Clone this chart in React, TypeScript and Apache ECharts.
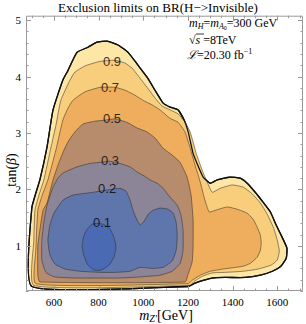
import React, { useEffect, useRef } from "react";
import * as echarts from "echarts";

// ---- axis ranges and ticks ----
const X_MIN = 475;
const X_MAX = 1715;
const Y_MIN = 0.2;
const Y_MAX = 5.08;
const X_MAJOR = [600, 800, 1000, 1200, 1400, 1600];
const X_MINOR = [500, 550, 650, 700, 750, 850, 900, 950, 1050, 1100, 1150, 1250, 1300, 1350, 1450, 1500, 1550, 1650, 1700];
const Y_MAJOR = [1, 2, 3, 4, 5];
const Y_MINOR = [0.2, 0.4, 0.6, 0.8, 1.2, 1.4, 1.6, 1.8, 2.2, 2.4, 2.6, 2.8, 3.2, 3.4, 3.6, 3.8, 4.2, 4.4, 4.6, 4.8];

// ---- contour polygons [mZ' (GeV), tan(beta)] ----
const BOUNDARY = [[501,0.28],[501,1.67],[537,2.17],[569,2.75],[596,3.41],[640,3.94],[663,4.11],[703,4.43],[752,4.52],[793,4.61],[838,4.63],[887,4.56],[932,4.43],[977,4.20],[1017,3.99],[1057,3.73],[1089,3.53],[1120,3.46],[1156,3.41],[1183,3.23],[1201,3.02],[1223,2.64],[1246,2.41],[1268,2.22],[1300,2.11],[1331,2.17],[1389,2.22],[1434,2.20],[1465,2.11],[1501,1.95],[1537,1.77],[1569,1.60],[1595,1.37],[1622,1.15],[1643,0.96],[1640,0.78],[1616,0.64],[1578,0.55],[1524,0.48],[1456,0.44],[1367,0.44],[1309,0.43],[1268,0.39],[1232,0.34],[1201,0.28]];
const C09 = [[510,0.30],[510,1.10],[515,1.63],[533,1.90],[555,2.17],[587,2.75],[609,3.14],[631,3.58],[672,3.94],[694,4.08],[739,4.19],[806,4.27],[874,4.29],[918,4.24],[950,4.15],[986,3.97],[1017,3.81],[1053,3.62],[1084,3.48],[1120,3.41],[1156,3.34],[1187,3.19],[1210,3.02],[1237,2.64],[1264,2.34],[1286,2.13],[1309,1.95],[1344,2.02],[1398,2.08],[1448,2.04],[1488,1.92],[1524,1.76],[1555,1.56],[1582,1.33],[1600,1.10],[1609,0.91],[1600,0.75],[1573,0.66],[1515,0.59],[1448,0.55],[1367,0.53],[1309,0.52],[1264,0.46],[1228,0.37],[1210,0.30]];
const C07 = [[519,0.33],[519,0.92],[528,1.63],[546,1.88],[573,2.17],[609,2.70],[640,3.23],[663,3.44],[685,3.58],[739,3.73],[806,3.81],[874,3.81],[918,3.76],[963,3.67],[999,3.58],[1039,3.50],[1075,3.41],[1120,3.26],[1156,3.19],[1187,3.02],[1210,2.73],[1232,2.43],[1255,2.13],[1273,1.85],[1295,1.60],[1322,1.63],[1376,1.69],[1420,1.65],[1465,1.58],[1492,1.47],[1510,1.33],[1524,1.19],[1528,1.05],[1524,0.92],[1510,0.80],[1479,0.69],[1448,0.64],[1358,0.59],[1300,0.55],[1255,0.48],[1219,0.39],[1201,0.33]];
const C05 = [[537,0.36],[528,0.48],[528,1.01],[537,1.28],[551,1.63],[569,1.76],[596,2.17],[618,2.43],[645,2.70],[667,2.87],[694,3.02],[730,3.16],[784,3.21],[829,3.23],[874,3.25],[927,3.19],[972,3.09],[1017,3.02],[1053,2.91],[1089,2.73],[1129,2.61],[1165,2.48],[1196,2.22],[1214,1.90],[1223,1.46],[1223,1.01],[1219,0.72],[1201,0.50],[1187,0.36]];
const C03 = [[569,1.72],[596,2.04],[618,2.20],[640,2.29],[703,2.40],[761,2.46],[806,2.48],[851,2.50],[896,2.46],[941,2.40],[972,2.31],[1004,2.24],[1030,2.17],[1062,2.11],[1089,2.02],[1120,1.86],[1152,1.72],[1169,1.54],[1178,1.28],[1178,0.92],[1165,0.69],[1129,0.55],[1075,0.48],[986,0.45],[896,0.43],[806,0.43],[694,0.43],[604,0.45],[564,0.53],[546,0.75],[546,1.10],[555,1.42]];
const C02 = [[573,1.10],[582,1.37],[600,1.58],[618,1.69],[640,1.81],[685,1.90],[775,1.95],[838,1.99],[896,2.02],[923,1.97],[941,1.81],[954,1.63],[972,1.46],[986,1.37],[1004,1.44],[1022,1.56],[1044,1.63],[1075,1.67],[1111,1.65],[1134,1.58],[1147,1.42],[1152,1.19],[1147,0.92],[1129,0.73],[1089,0.62],[1039,0.60],[986,0.62],[941,0.55],[874,0.53],[806,0.53],[717,0.55],[649,0.59],[604,0.68],[582,0.84]];
const C01 = [[793,1.40],[824,1.38],[851,1.30],[869,1.15],[878,0.98],[869,0.80],[847,0.66],[811,0.57],[780,0.57],[752,0.66],[735,0.82],[726,0.99],[735,1.19],[752,1.31],[770,1.38]];

const CONTOURS = [BOUNDARY, C09, C07, C05, C03, C02, C01];
const FILLS = ["#fde6a6", "#f8cd7b", "#eeae5e", "#b68c6c", "#8b8597", "#5f76ad", "#4a6bb4"];

// ---- contour labels ----
const LABEL_TEXT = ["0.9", "0.7", "0.5", "0.3", "0.2", "0.1"];
const LABEL_POS = [[860, 4.27], [851, 3.81], [860, 3.25], [851, 2.52], [838, 2.02], [815, 1.41]];

const FRAME = "#9a9a9a";
const SERIF = "'Liberation Serif', 'DejaVu Serif', serif";

export default function App() {
  const ref = useRef<HTMLDivElement>(null);
  useEffect(() => {
    document.documentElement.style.background = "#fff";
    document.body.style.margin = "0";
    document.body.style.background = "#fff";
    const chart = echarts.init(ref.current!, null, { renderer: "svg" });
    const polyData = CONTOURS.map((_, i) => [1000, 2, i]);
    polyData.push([1000, 2, CONTOURS.length]);

    // frame ticks: [x, y, kind(0=x,1=y,2=frame), length]
    const tickData: number[][] = [];
    X_MINOR.forEach((v) => tickData.push([v, Y_MIN, 0, 2.5]));
    X_MAJOR.forEach((v) => tickData.push([v, Y_MIN, 0, 5]));
    Y_MINOR.forEach((v) => tickData.push([X_MIN, v, 1, 2.5]));
    Y_MAJOR.forEach((v) => tickData.push([X_MIN, v, 1, 5]));
    tickData.push([X_MIN, Y_MIN, 2, 0]);

    const option: any = {
      animation: false,
      backgroundColor: "#ffffff",
      title: {
        text: "Exclusion limits on BR(H\u2212>Invisible)",
        left: 58, top: 1, padding: 0,
        textStyle: { fontFamily: SERIF, fontSize: 13, fontWeight: "normal", color: "#000" },
      },
      grid: { left: 26, top: 15.7, right: 3, bottom: 33, containLabel: false },
      xAxis: {
        type: "value", min: X_MIN, max: X_MAX,
        axisLine: { show: false },
        axisTick: { show: false },
        axisLabel: { show: true, customValues: X_MAJOR, color: "#000", fontFamily: SERIF, fontSize: 11, margin: 5, formatter: (v: number) => String(v) },
        splitLine: { show: false },
      },
      yAxis: {
        type: "value", min: Y_MIN, max: Y_MAX,
        axisLine: { show: false },
        axisTick: { show: false },
        axisLabel: { show: true, customValues: Y_MAJOR, color: "#000", fontFamily: SERIF, fontSize: 11, margin: 5, formatter: (v: number) => String(v) },
        splitLine: { show: false },
      },
      series: [
        {
          type: "custom",
          coordinateSystem: "cartesian2d",
          encode: { x: 0, y: 1 },
          data: polyData,
          clip: true,
          renderItem: (params: any, api: any) => {
            const i = params.dataIndex;
            if (i === CONTOURS.length) {
              const pts = BOUNDARY.map((p) => api.coord(p));
              return { type: "polygon", shape: { points: pts, smooth: 0.15 }, style: { fill: "none", stroke: "#111", lineWidth: 1.3 } };
            }
            const pts = CONTOURS[i].map((p) => api.coord(p));
            return {
              type: "polygon",
              shape: { points: pts, smooth: 0.15 },
              style: {
                fill: FILLS[i],
                stroke: i === 0 ? "#111" : "rgba(45,40,35,0.65)",
                lineWidth: i === 0 ? 1.3 : 0.8,
              },
            };
          },
          z: 2,
        },
        {
          type: "custom",
          coordinateSystem: "cartesian2d",
          encode: { x: 0, y: 1 },
          data: tickData,
          clip: false,
          z: 6,
          renderItem: (params: any, api: any) => {
            const cs = params.coordSys;
            const kind = api.value(2);
            const len = api.value(3);
            const st = { stroke: FRAME, lineWidth: 1 };
            if (kind === 2) {
              return { type: "rect", shape: { x: cs.x + 0.5, y: cs.y + 0.5, width: cs.width - 1, height: cs.height - 1 }, style: { fill: "none", stroke: FRAME, lineWidth: 1 } };
            }
            const p = api.coord([api.value(0), api.value(1)]);
            if (kind === 0) {
              const x = Math.round(p[0]) + 0.5;
              return {
                type: "group",
                children: [
                  { type: "line", shape: { x1: x, y1: cs.y + cs.height, x2: x, y2: cs.y + cs.height - len }, style: st },
                  { type: "line", shape: { x1: x, y1: cs.y, x2: x, y2: cs.y + len }, style: st },
                ],
              };
            }
            const y = Math.round(p[1]) + 0.5;
            return {
              type: "group",
              children: [
                { type: "line", shape: { x1: cs.x, y1: y, x2: cs.x + len, y2: y }, style: st },
                { type: "line", shape: { x1: cs.x + cs.width, y1: y, x2: cs.x + cs.width - len, y2: y }, style: st },
              ],
            };
          },
        },
        {
          type: "scatter",
          symbolSize: 0,
          data: LABEL_POS.map((p, i) => ({ value: p, name: LABEL_TEXT[i] })),
          label: {
            show: true, position: "inside", formatter: "{b}", color: "#000",
            fontFamily: "'Liberation Sans', Arial, sans-serif", fontSize: 13,
          },
          z: 5,
        },
      ],
      graphic: [
        {
          type: "text", x: 189, y: 23, z: 101,
          style: {
            text: "{i|m}{s|H}{n|=}{i|m}{s|A}{ss|0}{n|=300 GeV}",
            verticalAlign: "middle",
            rich: {
              i: { fontFamily: SERIF, fontSize: 12, fontStyle: "italic", fill: "#000" },
              n: { fontFamily: SERIF, fontSize: 12, fill: "#000" },
              s: { fontFamily: SERIF, fontSize: 8, fontStyle: "italic", fill: "#000", padding: [6, 0, 0, 0] },
              ss: { fontFamily: SERIF, fontSize: 6, fill: "#000", padding: [10, 0, 0, 0] },
            },
          },
        },
        {
          type: "text", x: 189, y: 40, z: 101,
          style: {
            text: "{n|\u221A}{i|s}{n| =8TeV}",
            verticalAlign: "middle",
            rich: {
              i: { fontFamily: SERIF, fontSize: 12, fontStyle: "italic", fill: "#000" },
              n: { fontFamily: SERIF, fontSize: 12, fill: "#000" },
            },
          },
        },
        { type: "line", z: 101, shape: { x1: 196, y1: 34, x2: 204, y2: 34 }, style: { stroke: "#000", lineWidth: 0.8 } },
        {
          type: "text", x: 187, y: 55, z: 101,
          style: {
            text: "{l|\u2112}{n|=20.30 fb}{p|\u22121}",
            verticalAlign: "middle",
            rich: {
              l: { fontFamily: "'DejaVu Serif', serif", fontSize: 12, fontStyle: "italic", fill: "#000" },
              n: { fontFamily: SERIF, fontSize: 12, fill: "#000" },
              p: { fontFamily: SERIF, fontSize: 8, fill: "#000", padding: [0, 0, 7, 0] },
            },
          },
        },
        {
          type: "text", x: 166, y: 315, z: 101,
          style: {
            text: "{i|m}{s|Z\u2032}{n|[GeV]}",
            align: "center", verticalAlign: "middle",
            rich: {
              i: { fontFamily: SERIF, fontSize: 14, fontStyle: "italic", fill: "#000" },
              n: { fontFamily: SERIF, fontSize: 14, fill: "#000" },
              s: { fontFamily: SERIF, fontSize: 10, fontStyle: "italic", fill: "#000", padding: [7, 0, 0, 0] },
            },
          },
        },
        {
          type: "text", x: 11, y: 170, rotation: Math.PI / 2, z: 101,
          style: {
            text: "{n|tan(}{i|\u03B2}{n|)}",
            align: "center", verticalAlign: "middle",
            rich: {
              i: { fontFamily: SERIF, fontSize: 14, fontStyle: "italic", fill: "#000" },
              n: { fontFamily: SERIF, fontSize: 14, fill: "#000" },
            },
          },
        },
      ],
    };
    chart.setOption(option);
    return () => chart.dispose();
  }, []);
  return <div ref={ref} style={{ width: 306, height: 324, background: "#fff" }} />;
}
